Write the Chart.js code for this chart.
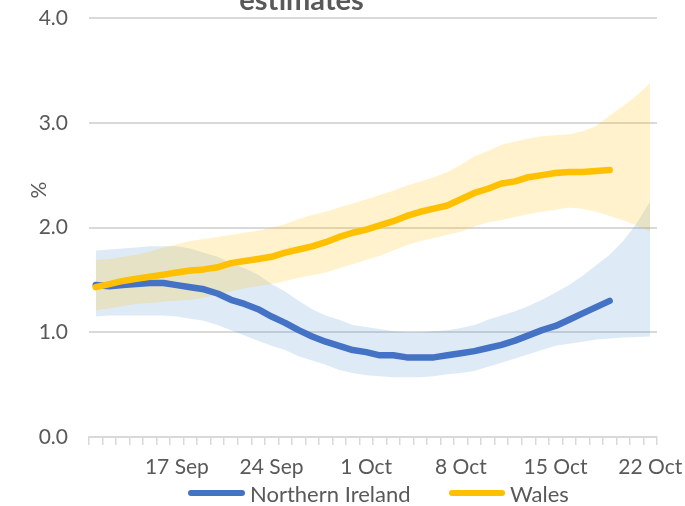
<!DOCTYPE html>
<html>
<head>
<meta charset="utf-8">
<script src="https://cdn.jsdelivr.net/npm/chart.js@4/dist/chart.umd.min.js"></script>
<style>
  html, body { margin: 0; padding: 0; background: #ffffff; }
  #wrap { position: relative; width: 685px; height: 506px; overflow: hidden; background: #fff; }
  #c { position: absolute; left: 0; top: 0; }
  #title { position: absolute; left: 0; width: 603px; top: -16px; text-align: center;
           font: bold 29px Lato, "Liberation Sans", sans-serif; line-height: 29px; color: #595959; }
  #ylab { position: absolute; left: 25px; top: 179px; width: 22px; height: 22px; line-height: 22px; text-align: center;
          font: 21px Lato, sans-serif; color: #595959; transform: rotate(-90deg); }
  .leg { position: absolute; top: 483px; height: 20px; display: flex; align-items: center;
         font: 22px Lato, sans-serif; color: #595959; white-space: nowrap; }
  .leg .bar { height: 6px; border-radius: 3px; margin-right: 5px; }
</style>
</head>
<body>
<div id="wrap">
  <canvas id="c" width="685" height="506"></canvas>
  <div id="title">estimates</div>
  <div id="ylab">%</div>
  <div class="leg" style="left:188px"><span class="bar" style="width:57px;background:#4472C4"></span><span>Northern Ireland</span></div>
  <div class="leg" style="left:449px"><span class="bar" style="width:56px;background:#FFC000"></span><span>Wales</span></div>
</div>
<script>
// Categories: one slot per day
const dates = ['11 Sep','12 Sep','13 Sep','14 Sep','15 Sep','16 Sep','17 Sep','18 Sep','19 Sep','20 Sep',
  '21 Sep','22 Sep','23 Sep','24 Sep','25 Sep','26 Sep','27 Sep','28 Sep','29 Sep','30 Sep',
  '1 Oct','2 Oct','3 Oct','4 Oct','5 Oct','6 Oct','7 Oct','8 Oct','9 Oct','10 Oct',
  '11 Oct','12 Oct','13 Oct','14 Oct','15 Oct','16 Oct','17 Oct','18 Oct','19 Oct','20 Oct',
  '21 Oct','22 Oct'];
const xTickLabels = ['17 Sep','24 Sep','1 Oct','8 Oct','15 Oct','22 Oct'];
const yTickValues = [0, 1, 2, 3, 4];

// Northern Ireland
const niCentral = [1.45,1.44,1.45,1.46,1.47,1.47,1.45,1.43,1.41,1.37,
  1.31,1.27,1.22,1.15,1.09,1.02,0.96,0.91,0.87,0.83,
  0.81,0.78,0.78,0.76,0.76,0.76,0.78,0.80,0.82,0.85,
  0.88,0.92,0.97,1.02,1.06,1.12,1.18,1.24,1.30];
const niUpper = [1.78,1.79,1.80,1.81,1.82,1.82,1.82,1.80,1.76,1.72,
  1.66,1.61,1.55,1.46,1.39,1.30,1.22,1.16,1.12,1.07,
  1.05,1.03,1.01,1.00,1.00,1.01,1.02,1.04,1.07,1.12,
  1.16,1.20,1.25,1.31,1.38,1.45,1.54,1.64,1.74,1.87,
  2.04,2.25];
const niLower = [1.15,1.16,1.16,1.16,1.16,1.16,1.15,1.13,1.11,1.07,
  1.02,0.97,0.92,0.87,0.83,0.77,0.73,0.69,0.64,0.61,
  0.59,0.58,0.57,0.57,0.57,0.58,0.60,0.61,0.63,0.67,
  0.71,0.75,0.79,0.83,0.87,0.89,0.91,0.93,0.94,0.95,
  0.955,0.96];

// Wales
const walesCentral = [1.43,1.46,1.49,1.51,1.53,1.55,1.57,1.59,1.60,1.62,
  1.66,1.68,1.70,1.72,1.76,1.79,1.82,1.86,1.91,1.95,
  1.98,2.02,2.06,2.11,2.15,2.18,2.21,2.27,2.33,2.37,
  2.42,2.44,2.48,2.50,2.52,2.53,2.53,2.54,2.55];
const walesUpper = [1.69,1.70,1.72,1.74,1.77,1.81,1.84,1.87,1.89,1.91,
  1.93,1.95,1.97,2.00,2.03,2.08,2.12,2.15,2.19,2.23,
  2.27,2.31,2.35,2.40,2.44,2.48,2.53,2.60,2.68,2.73,
  2.79,2.82,2.85,2.87,2.88,2.89,2.92,2.97,3.07,3.16,
  3.26,3.38];
const walesLower = [1.21,1.23,1.25,1.27,1.28,1.29,1.30,1.31,1.33,1.36,
  1.39,1.42,1.44,1.46,1.49,1.52,1.545,1.57,1.61,1.65,
  1.69,1.73,1.78,1.83,1.87,1.90,1.93,1.96,2.01,2.05,
  2.07,2.10,2.13,2.15,2.17,2.19,2.18,2.15,2.11,2.07,
  2.02,1.96];

const TXT = '#595959';
const GRID = '#D9D9D9';
const FONT = { family: 'Lato, sans-serif', size: 21 };

new Chart(document.getElementById('c'), {
  type: 'line',
  data: {
    labels: dates,
    datasets: [
      { data: niLower, borderWidth: 0, pointRadius: 0, fill: false, order: 4 },
      { data: niUpper, borderWidth: 0, pointRadius: 0, fill: '-1', backgroundColor: 'rgba(91,155,213,0.2)', order: 4 },
      { data: walesLower, borderWidth: 0, pointRadius: 0, fill: false, order: 3 },
      { data: walesUpper, borderWidth: 0, pointRadius: 0, fill: '-1', backgroundColor: 'rgba(255,192,0,0.2)', order: 3 },
      { label: 'Northern Ireland', data: niCentral, borderColor: '#4472C4', backgroundColor: '#4472C4',
        borderWidth: 6.5, pointRadius: 0, fill: false, borderCapStyle: 'round', borderJoinStyle: 'round', order: 2 },
      { label: 'Wales', data: walesCentral, borderColor: '#FFC000', backgroundColor: '#FFC000',
        borderWidth: 6.5, pointRadius: 0, fill: false, borderCapStyle: 'round', borderJoinStyle: 'round', order: 1 }
    ]
  },
  options: {
    responsive: false,
    animation: false,
    events: [],
    layout: { padding: { top: 18, right: 28, left: 0, bottom: 25 } },
    plugins: { legend: { display: false }, title: { display: false }, tooltip: { enabled: false } },
    elements: { line: { tension: 0 } },
    scales: {
      x: {
        type: 'category',
        offset: true,
        grid: { display: true, offset: true, drawOnChartArea: false, drawTicks: true, tickLength: 8, color: GRID, lineWidth: 1.5 },
        border: { display: true, color: GRID, width: 2 },
        ticks: {
          autoSkip: false, maxRotation: 0, minRotation: 0, padding: 10, color: TXT, font: FONT,
          callback: function (v, i) { const l = dates[i]; return xTickLabels.includes(l) ? l : ''; }
        },
        afterFit: function (s) { s.height = 44; s.paddingLeft = 0; s.paddingRight = 0; }
      },
      y: {
        min: 0, max: 4,
        afterBuildTicks: function (s) { s.ticks = yTickValues.map(v => ({ value: v })); },
        ticks: { padding: 21, color: TXT, font: FONT, callback: v => Number(v).toFixed(1) },
        grid: { color: GRID, lineWidth: 2, drawTicks: false },
        border: { display: false },
        afterFit: function (s) { s.width = 89; s.paddingTop = 0; s.paddingBottom = 0; }
      }
    }
  }
});
</script>
</body>
</html>
